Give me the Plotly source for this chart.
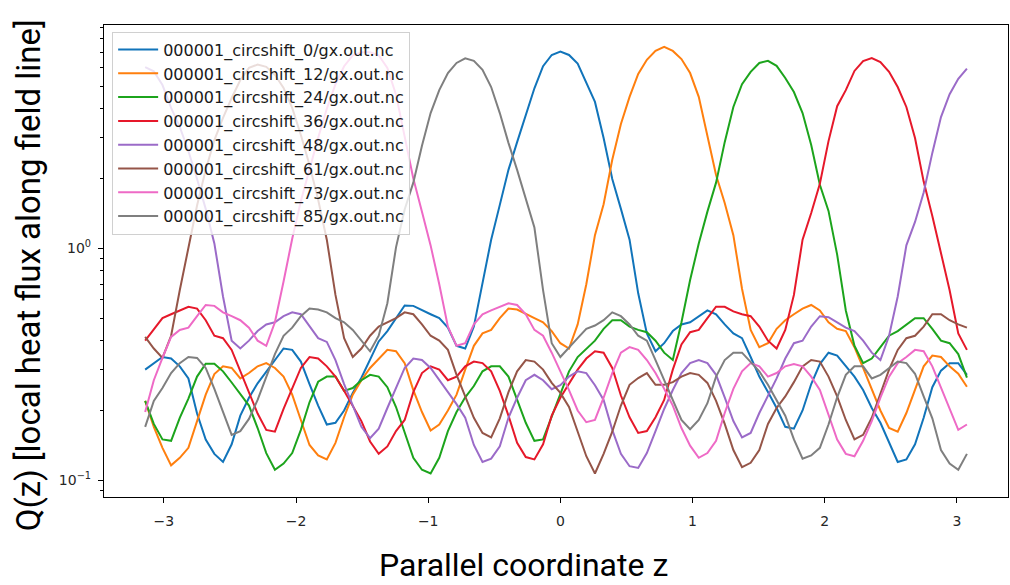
import numpy as np
import plotly.graph_objects as go

# Parallel grid: 96 points spanning one poloidal turn, z in [-pi, pi)
n_z = 96
z = np.linspace(-np.pi, np.pi, n_z, endpoint=False)

labels = [
    "000001_circshift_0/gx.out.nc",
    "000001_circshift_12/gx.out.nc",
    "000001_circshift_24/gx.out.nc",
    "000001_circshift_36/gx.out.nc",
    "000001_circshift_48/gx.out.nc",
    "000001_circshift_61/gx.out.nc",
    "000001_circshift_73/gx.out.nc",
    "000001_circshift_85/gx.out.nc",
]

colors = ["#1174ba", "#ff7f0e", "#1ca41c", "#e6182a",
          "#9b6bc8", "#955548", "#ee6ac6", "#7f7f7f"]

q_shift0 = [
    0.30, 0.32, 0.34, 0.335, 0.31, 0.275, 0.194, 0.15, 0.13, 0.12, 0.143, 0.19,
    0.227, 0.262, 0.294, 0.331, 0.37, 0.365, 0.325, 0.26, 0.21, 0.174, 0.177, 0.20,
    0.238, 0.277, 0.331, 0.397, 0.44, 0.50, 0.567, 0.565, 0.54, 0.52, 0.50, 0.455,
    0.38, 0.37, 0.46, 0.70, 1.09, 1.54, 2.18, 2.87, 3.75, 4.9, 6.1, 6.82,
    7.05, 6.82, 6.26, 5.17, 4.28, 2.99, 1.99, 1.48, 1.09, 0.64, 0.43, 0.36,
    0.39, 0.44, 0.47, 0.48, 0.51, 0.54, 0.52, 0.47, 0.43, 0.41, 0.34, 0.28,
    0.24, 0.205, 0.17, 0.167, 0.20, 0.26, 0.317, 0.355, 0.345, 0.31, 0.28, 0.245,
    0.205, 0.177, 0.145, 0.12, 0.123, 0.143, 0.186, 0.252, 0.297, 0.32, 0.32, 0.285,
]

q_shift12 = [
    0.22, 0.17, 0.138, 0.116, 0.125, 0.138, 0.18, 0.234, 0.287, 0.31, 0.305, 0.275,
    0.29, 0.31, 0.32, 0.305, 0.28, 0.234, 0.182, 0.142, 0.128, 0.123, 0.145, 0.187,
    0.234, 0.27, 0.305, 0.334, 0.365, 0.36, 0.32, 0.245, 0.197, 0.164, 0.174, 0.20,
    0.234, 0.30, 0.38, 0.43, 0.445, 0.50, 0.55, 0.545, 0.52, 0.50, 0.48, 0.44,
    0.39, 0.37, 0.47, 0.70, 1.14, 1.55, 2.41, 3.44, 4.5, 5.65, 6.5, 7.1,
    7.4, 7.1, 6.55, 5.7, 4.5, 3.08, 2.07, 1.57, 1.14, 0.67, 0.445, 0.375,
    0.39, 0.45, 0.49, 0.52, 0.55, 0.57, 0.54, 0.48, 0.45, 0.44, 0.375, 0.305,
    0.245, 0.20, 0.168, 0.162, 0.195, 0.248, 0.31, 0.345, 0.34, 0.31, 0.288, 0.253,
]

q_shift24 = [
    0.22, 0.175, 0.15, 0.148, 0.186, 0.225, 0.28, 0.318, 0.318, 0.295, 0.264, 0.234,
    0.21, 0.168, 0.131, 0.111, 0.118, 0.131, 0.165, 0.217, 0.266, 0.28, 0.28, 0.243,
    0.25, 0.27, 0.285, 0.28, 0.252, 0.207, 0.159, 0.125, 0.111, 0.107, 0.125, 0.163,
    0.197, 0.228, 0.255, 0.295, 0.31, 0.31, 0.28, 0.222, 0.177, 0.148, 0.15, 0.188,
    0.234, 0.295, 0.34, 0.37, 0.40, 0.45, 0.49, 0.49, 0.46, 0.445, 0.435, 0.40,
    0.355, 0.33, 0.48, 0.73, 1.05, 1.44, 1.92, 2.87, 4.07, 5.1, 5.77, 6.3,
    6.43, 6.12, 5.43, 4.72, 3.83, 2.79, 1.88, 1.45, 0.94, 0.54, 0.38, 0.32,
    0.335, 0.375, 0.42, 0.44, 0.47, 0.50, 0.50, 0.45, 0.40, 0.39, 0.35, 0.277,
]

q_shift36 = [
    0.40, 0.45, 0.50, 0.52, 0.54, 0.56, 0.55, 0.49, 0.42, 0.41, 0.365, 0.295,
    0.236, 0.194, 0.165, 0.162, 0.203, 0.25, 0.305, 0.34, 0.335, 0.31, 0.28, 0.243,
    0.21, 0.18, 0.147, 0.13, 0.14, 0.163, 0.182, 0.24, 0.29, 0.31, 0.30, 0.27,
    0.28, 0.31, 0.325, 0.32, 0.295, 0.243, 0.19, 0.145, 0.126, 0.123, 0.143, 0.19,
    0.227, 0.262, 0.30, 0.335, 0.36, 0.355, 0.305, 0.232, 0.187, 0.16, 0.163, 0.187,
    0.222, 0.30, 0.385, 0.435, 0.445, 0.50, 0.56, 0.56, 0.535, 0.52, 0.51, 0.46,
    0.40, 0.37, 0.445, 0.63, 1.09, 1.42, 1.9, 2.9, 4.1, 4.81, 5.82, 6.42,
    6.62, 6.36, 5.77, 4.96, 4.07, 2.99, 1.94, 1.38, 0.94, 0.66, 0.43, 0.365,
]

q_shift48 = [
    6.05, 5.8, 5.06, 4.03, 3.34, 2.63, 1.99, 1.48, 1.05, 0.62, 0.40, 0.37,
    0.40, 0.44, 0.47, 0.48, 0.51, 0.53, 0.52, 0.46, 0.41, 0.395, 0.33, 0.26,
    0.21, 0.17, 0.152, 0.167, 0.205, 0.252, 0.305, 0.335, 0.33, 0.305, 0.27, 0.238,
    0.213, 0.186, 0.142, 0.12, 0.124, 0.14, 0.186, 0.227, 0.27, 0.285, 0.27, 0.247,
    0.257, 0.28, 0.295, 0.29, 0.257, 0.222, 0.165, 0.13, 0.115, 0.113, 0.131, 0.163,
    0.203, 0.245, 0.29, 0.32, 0.33, 0.32, 0.285, 0.228, 0.18, 0.153, 0.16, 0.195,
    0.23, 0.275, 0.335, 0.39, 0.40, 0.46, 0.51, 0.505, 0.48, 0.455, 0.44, 0.40,
    0.355, 0.33, 0.42, 0.62, 1.03, 1.30, 1.74, 2.58, 3.68, 4.62, 5.38, 5.95,
]

q_shift61 = [
    0.415, 0.37, 0.337, 0.42, 0.66, 1.01, 1.53, 2.18, 2.93, 3.65, 4.45, 5.32,
    6.0, 6.2, 6.06, 5.6, 4.92, 4.03, 3.08, 2.29, 1.62, 1.09, 0.63, 0.41,
    0.34, 0.37, 0.42, 0.46, 0.48, 0.50, 0.53, 0.52, 0.47, 0.42, 0.40, 0.365,
    0.285, 0.228, 0.186, 0.16, 0.153, 0.185, 0.24, 0.295, 0.33, 0.325, 0.30, 0.263,
    0.238, 0.207, 0.162, 0.127, 0.107, 0.13, 0.162, 0.21, 0.258, 0.276, 0.29, 0.258,
    0.258, 0.265, 0.28, 0.29, 0.285, 0.263, 0.22, 0.175, 0.135, 0.114, 0.119, 0.135,
    0.175, 0.205, 0.23, 0.265, 0.31, 0.33, 0.325, 0.28, 0.23, 0.182, 0.15, 0.157,
    0.186, 0.234, 0.30, 0.365, 0.41, 0.42, 0.46, 0.52, 0.52, 0.49, 0.47, 0.455,
]

q_shift73 = [
    0.197, 0.27, 0.337, 0.415, 0.445, 0.455, 0.51, 0.57, 0.565, 0.53, 0.51, 0.49,
    0.455, 0.40, 0.38, 0.48, 0.72, 1.1, 1.6, 2.2, 3.0, 4.0, 5.1, 6.1,
    6.8, 7.0, 7.0, 6.8, 6.0, 4.6, 3.0, 2.0, 1.44, 1.03, 0.70, 0.46,
    0.38, 0.39, 0.47, 0.52, 0.54, 0.56, 0.58, 0.57, 0.52, 0.445, 0.42, 0.355,
    0.297, 0.245, 0.20, 0.178, 0.182, 0.227, 0.29, 0.355, 0.375, 0.365, 0.33, 0.29,
    0.248, 0.21, 0.168, 0.141, 0.125, 0.131, 0.148, 0.195, 0.248, 0.295, 0.32, 0.31,
    0.28, 0.29, 0.31, 0.317, 0.31, 0.28, 0.245, 0.19, 0.15, 0.13, 0.127, 0.148,
    0.18, 0.227, 0.28, 0.32, 0.34, 0.365, 0.36, 0.31, 0.252, 0.201, 0.165, 0.174,
]

q_shift85 = [
    0.17, 0.22, 0.25, 0.29, 0.32, 0.34, 0.337, 0.305, 0.248, 0.197, 0.157, 0.163,
    0.184, 0.222, 0.277, 0.35, 0.42, 0.455, 0.51, 0.55, 0.545, 0.53, 0.50, 0.48,
    0.445, 0.40, 0.36, 0.42, 0.58, 1.01, 1.47, 1.92, 2.77, 3.83, 4.81, 5.7,
    6.3, 6.6, 6.43, 5.88, 4.96, 3.83, 2.85, 2.18, 1.65, 1.23, 0.66, 0.39,
    0.34, 0.375, 0.41, 0.45, 0.465, 0.49, 0.53, 0.51, 0.47, 0.42, 0.40, 0.33,
    0.27, 0.22, 0.182, 0.166, 0.182, 0.215, 0.28, 0.33, 0.355, 0.355, 0.325, 0.295,
    0.258, 0.222, 0.19, 0.15, 0.124, 0.128, 0.138, 0.174, 0.228, 0.285, 0.31, 0.31,
    0.275, 0.285, 0.305, 0.325, 0.32, 0.288, 0.23, 0.185, 0.135, 0.118, 0.111, 0.13,
]

series = [q_shift0, q_shift12, q_shift24, q_shift36,
          q_shift48, q_shift61, q_shift73, q_shift85]

fig = go.Figure()
for name, color, q in zip(labels, colors, series):
    fig.add_trace(go.Scatter(
        x=z, y=q, mode="lines", name=name,
        line=dict(color=color, width=2),
        legendgroup=name,
    ))

tick_font = dict(family="DejaVu Sans", size=14, color="#262626")
minor_vals = [m * 10.0 ** e for e in (-2, -1, 0) for m in range(2, 10)]

fig.update_layout(
    width=1010, height=585,
    margin=dict(l=104, r=2, t=25, b=88),
    paper_bgcolor="white", plot_bgcolor="white",
    showlegend=True,
    legend=dict(
        x=0.009, y=0.986, xanchor="left", yanchor="top",
        bgcolor="rgba(255,255,255,0.8)", bordercolor="#d0d0d0", borderwidth=1,
        font=dict(family="DejaVu Sans", size=16, color="#1a1a1a"),
        tracegroupgap=0, itemwidth=40,
    ),
    xaxis=dict(
        range=[-3.453, 3.387], tickvals=[-3, -2, -1, 0, 1, 2, 3],
        ticktext=["\u22123", "\u22122", "\u22121", "0", "1", "2", "3"],
        ticks="outside", ticklen=5, tickwidth=1, tickcolor="black",
        ticklabelstandoff=6,
        showline=True, linecolor="black", linewidth=1.2, mirror=True,
        showgrid=False, zeroline=False, tickfont=tick_font,
    ),
    yaxis=dict(
        type="log", range=[-1.072, 0.963],
        tickvals=[0.1, 1], ticktext=["10<sup>\u22121</sup>", "10<sup>0</sup>"],
        ticks="outside", ticklen=5, tickwidth=1, tickcolor="black",
        ticklabelstandoff=4,
        minor=dict(tickvals=minor_vals, ticks="outside", ticklen=3,
                   tickwidth=0.8, tickcolor="black", showgrid=False),
        showline=True, linecolor="black", linewidth=1.2, mirror=True,
        showgrid=False, zeroline=False, tickfont=tick_font,
    ),
    annotations=[
        dict(text="Q(z) [local heat flux along field line]",
             xref="paper", yref="paper", x=-0.084, y=0.47,
             xanchor="center", yanchor="middle", textangle=-90,
             showarrow=False,
             font=dict(family="Roboto", size=33, color="black")),
        dict(text="Parallel coordinate z",
             xref="paper", yref="paper", x=0.4646, y=-0.144,
             xanchor="center", yanchor="middle", showarrow=False,
             font=dict(family="Roboto", size=32, color="black")),
    ],
)

fig.write_html("out.html")
